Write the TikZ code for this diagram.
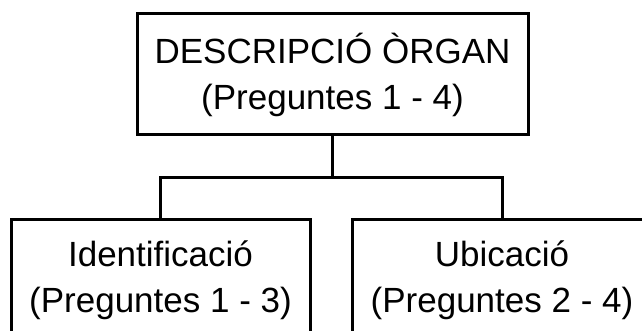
\documentclass[tikz,border=0pt]{standalone}
\usepackage{fontspec}
\setmainfont{Liberation Sans}
\usetikzlibrary{positioning}

\begin{document}
\begin{tikzpicture}[x=1pt, y=1pt, node distance=82pt, box/.style={draw, line width=3pt, minimum height=121pt, align=center, inner sep=0pt, font=\fontsize{35}{46}\selectfont}]
\useasboundingbox (0,0) rectangle (642,331);
\clip (0,0) rectangle (642,331);
\node[box, minimum width=391pt] (organ) at (332.5,256.5) {DESCRIPCIÓ ÒRGAN\\(Preguntes 1 - 4)};
\node[box, minimum width=299pt, below=of organ, xshift=-172pt] (ident) {Identificació\\(Preguntes 1 - 3)};
\node[box, minimum width=300pt, below=of organ, xshift=169.5pt] (ubic) {Ubicació\\(Preguntes 2 - 4)};
\draw[line width=3pt] (organ.south) -- ++(0,-41) coordinate (bus);
\draw[line width=3pt] (ident.north) |- (bus) -| (ubic.north);
\end{tikzpicture}
\end{document}
